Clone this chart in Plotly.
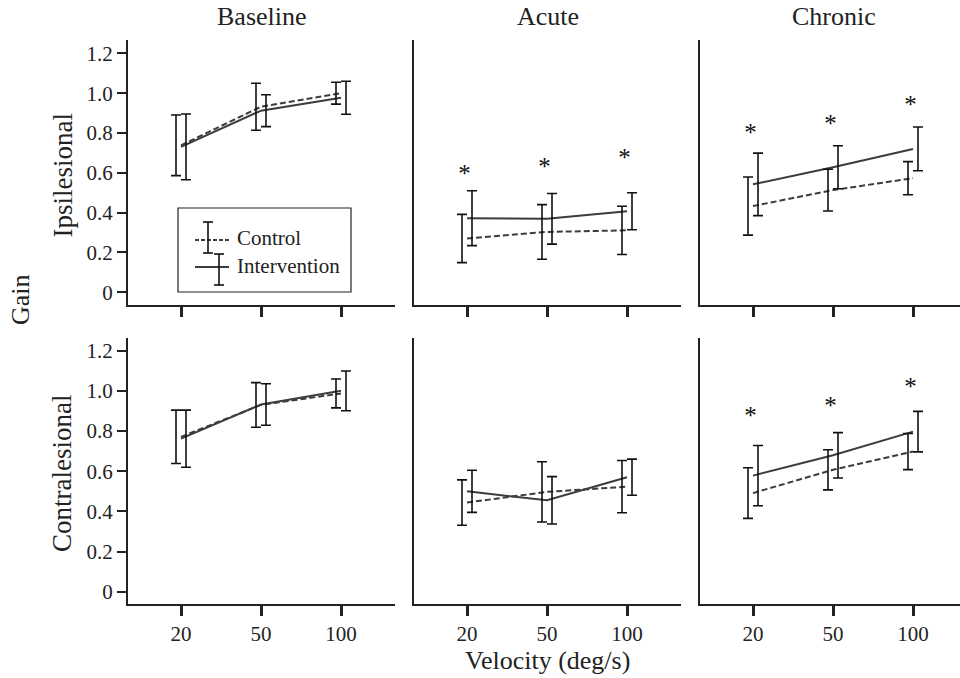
import plotly.graph_objects as go

# ---------------- data ----------------
velocities = ["20", "50", "100"]
conditions = ["Baseline", "Acute", "Chronic"]
sides = ["Ipsilesional", "Contralesional"]

# Ipsilesional
ipsi_base_ctrl = [0.738, 0.932, 1.000]
ipsi_base_ctrl_sd = [0.152, 0.118, 0.055]
ipsi_base_int = [0.730, 0.912, 0.977]
ipsi_base_int_sd = [0.165, 0.080, 0.083]
ipsi_acute_ctrl = [0.270, 0.303, 0.311]
ipsi_acute_ctrl_sd = [0.121, 0.137, 0.121]
ipsi_acute_int = [0.372, 0.369, 0.407]
ipsi_acute_int_sd = [0.138, 0.127, 0.093]
ipsi_chron_ctrl = [0.433, 0.513, 0.573]
ipsi_chron_ctrl_sd = [0.146, 0.105, 0.083]
ipsi_chron_int = [0.542, 0.628, 0.720]
ipsi_chron_int_sd = [0.157, 0.108, 0.110]

# Contralesional
contra_base_ctrl = [0.771, 0.930, 0.987]
contra_base_ctrl_sd = [0.133, 0.111, 0.072]
contra_base_int = [0.762, 0.932, 1.000]
contra_base_int_sd = [0.142, 0.103, 0.099]
contra_acute_ctrl = [0.444, 0.497, 0.523]
contra_acute_ctrl_sd = [0.113, 0.150, 0.130]
contra_acute_int = [0.500, 0.455, 0.570]
contra_acute_int_sd = [0.105, 0.118, 0.090]
contra_chron_ctrl = [0.491, 0.607, 0.698]
contra_chron_ctrl_sd = [0.126, 0.100, 0.090]
contra_chron_int = [0.578, 0.679, 0.797]
contra_chron_int_sd = [0.150, 0.113, 0.101]

# significance marker heights
star_ipsi_acute = [0.585, 0.622, 0.664]
star_ipsi_chron = [0.790, 0.836, 0.934]
star_contra_chron = [0.868, 0.916, 1.008]

y_ticks = [0, 0.2, 0.4, 0.6, 0.8, 1.0, 1.2]
y_tick_labels = ["0", "0.2", "0.4", "0.6", "0.8", "1.0", "1.2"]

panels = {
    (0, 0): (ipsi_base_ctrl, ipsi_base_ctrl_sd, ipsi_base_int, ipsi_base_int_sd, None),
    (0, 1): (ipsi_acute_ctrl, ipsi_acute_ctrl_sd, ipsi_acute_int, ipsi_acute_int_sd, star_ipsi_acute),
    (0, 2): (ipsi_chron_ctrl, ipsi_chron_ctrl_sd, ipsi_chron_int, ipsi_chron_int_sd, star_ipsi_chron),
    (1, 0): (contra_base_ctrl, contra_base_ctrl_sd, contra_base_int, contra_base_int_sd, None),
    (1, 1): (contra_acute_ctrl, contra_acute_ctrl_sd, contra_acute_int, contra_acute_int_sd, None),
    (1, 2): (contra_chron_ctrl, contra_chron_ctrl_sd, contra_chron_int, contra_chron_int_sd, star_contra_chron),
}

# ---------------- style ----------------
W, H = 960, 678
FONT = "Liberation Serif, Times New Roman, serif"
INK = "#222222"
LINE = "#3c3c3c"
DODGE = 0.0625


def px(x):
    return x / W


def py(y):
    return 1 - y / H


x_domains = [[px(128), px(395)], [px(414), px(681)], [px(700), 1.0]]
x_ranges = [[-0.6625, 2.675], [-0.6625, 2.675], [-0.6625, 2.5875]]
y_domains = [[py(305), py(40)], [py(604), py(338)]]
y_ranges = [[-0.064, 1.267], [-0.061, 1.263]]

fig = go.Figure()
layout = {}
idx = list(range(len(velocities)))

for (r, c), (cm, cs, im, isd, stars) in panels.items():
    k = r * 3 + c + 1
    xa, ya = f"x{k}", f"y{k}"
    fig.add_trace(go.Scatter(x=idx, y=cm, mode="lines", xaxis=xa, yaxis=ya,
                             line=dict(color=LINE, width=2, dash="6px,3px"), showlegend=False, hoverinfo="skip"))
    fig.add_trace(go.Scatter(x=idx, y=im, mode="lines", xaxis=xa, yaxis=ya,
                             line=dict(color=LINE, width=2), showlegend=False, hoverinfo="skip"))
    for means, sds, off in ((cm, cs, -DODGE), (im, isd, DODGE)):
        fig.add_trace(go.Scatter(x=[i + off for i in idx], y=means, mode="markers", xaxis=xa, yaxis=ya,
                                 marker=dict(size=1, color="rgba(0,0,0,0)"),
                                 error_y=dict(type="data", array=sds, visible=True, color="#111111",
                                              thickness=1.6, width=5),
                                 showlegend=False, hoverinfo="skip"))
    if stars:
        fig.add_trace(go.Scatter(x=[i - 0.03 for i in idx], y=stars, mode="text", text=["*"] * len(stars),
                                 xaxis=xa, yaxis=ya, textposition="middle center",
                                 textfont=dict(family=FONT, size=25, color="#111111"),
                                 showlegend=False, hoverinfo="skip"))

    xkey = "xaxis" if k == 1 else f"xaxis{k}"
    ykey = "yaxis" if k == 1 else f"yaxis{k}"
    layout[xkey] = dict(domain=x_domains[c], range=x_ranges[c], anchor=ya,
                        showline=True, linecolor=INK, linewidth=2, showgrid=False, zeroline=False,
                        ticks="outside", ticklen=10, tickwidth=3, tickcolor=INK,
                        tickvals=idx, ticktext=velocities, showticklabels=(r == 1),
                        tickfont=dict(family=FONT, size=21, color=INK))
    layout[ykey] = dict(domain=y_domains[r], range=y_ranges[r], anchor=xa,
                        showline=True, linecolor=INK, linewidth=2, showgrid=False, zeroline=False,
                        ticks="outside" if c == 0 else "", ticklen=9, tickwidth=2, tickcolor=INK,
                        tickvals=y_ticks, ticktext=y_tick_labels, showticklabels=(c == 0),
                        tickfont=dict(family=FONT, size=21, color=INK))


def label(text, x, y, size=26, angle=0, xanchor="center"):
    return dict(text=text, x=x, y=y, xref="paper", yref="paper", xanchor=xanchor, yanchor="middle",
                textangle=angle, showarrow=False, font=dict(family=FONT, size=size, color=INK))


annotations = []
for c, name in enumerate(conditions):
    cx = x_domains[c][0] + px(133.5)
    annotations.append(label(name, cx, py(17)))
for r, name in enumerate(sides):
    cy = (y_domains[r][0] + y_domains[r][1]) / 2 - 3 / H
    annotations.append(label(name, px(62), cy, size=27, angle=-90))
annotations.append(label("Gain", px(20), py(300), angle=-90))
annotations.append(label("Velocity (deg/s)", px(547), py(660)))

# custom legend
shapes = [dict(type="rect", xref="paper", yref="paper", x0=px(178), x1=px(351), y0=py(292), y1=py(208),
               line=dict(color=INK, width=1.2), fillcolor="white", layer="above")]


def ibeam(x, y0, y1):
    seg = dict(type="line", xref="paper", yref="paper", line=dict(color="#111111", width=1.6), layer="above")
    return [dict(seg, x0=px(x), x1=px(x), y0=py(y0), y1=py(y1)),
            dict(seg, x0=px(x - 5), x1=px(x + 5), y0=py(y0), y1=py(y0)),
            dict(seg, x0=px(x - 5), x1=px(x + 5), y0=py(y1), y1=py(y1))]


shapes.append(dict(type="line", xref="paper", yref="paper", x0=px(195), x1=px(229), y0=py(240), y1=py(240),
                   line=dict(color=LINE, width=2, dash="4px,2px"), layer="above"))
shapes += ibeam(208, 222, 253)
shapes.append(dict(type="line", xref="paper", yref="paper", x0=px(195), x1=px(229), y0=py(267), y1=py(267),
                   line=dict(color=LINE, width=2), layer="above"))
shapes += ibeam(219, 254, 285)
annotations.append(label("Control", px(235), py(238), size=21, xanchor="left"))
annotations.append(label("Intervention", px(235), py(266), size=21, xanchor="left"))

fig.update_layout(template="none", width=W, height=H, margin=dict(l=0, r=0, t=0, b=0, pad=0),
                  font=dict(family=FONT, color=INK),
                  paper_bgcolor="white", plot_bgcolor="white", showlegend=False,
                  annotations=annotations, shapes=shapes, **layout)

fig.write_html("out.html")
